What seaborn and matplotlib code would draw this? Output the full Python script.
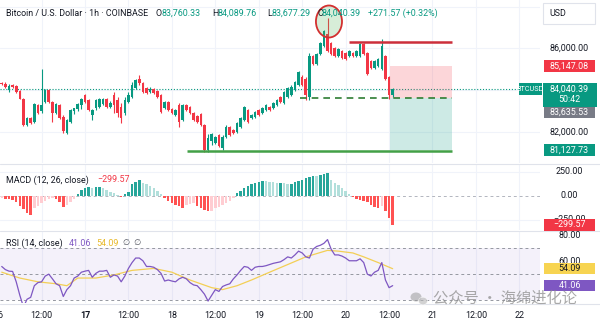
import numpy as np
import matplotlib
matplotlib.use("Agg")
import matplotlib.pyplot as plt
import matplotlib.transforms as mtransforms
from matplotlib.patches import Rectangle, Ellipse
import seaborn as sns

sns.set_theme(style="white")
plt.rcParams["font.family"] = ["Roboto", "DejaVu Sans"]

# ---------------- data: BTCUSD hourly candles, one per hour from the 16th 01:00 ----------------
opens = [84330, 84300, 84000, 84220, 84180, 83950, 83590, 82330, 82640, 82480,
         83280, 82990, 83430, 83990, 83430, 82880, 83300, 82720, 81930, 82480,
         83000, 83080, 83300, 83750, 83510, 82800, 83120, 83200, 83350, 83590,
         83200, 83750, 83510, 83180, 82900, 83430, 83650, 84080, 84550, 84330,
         84080, 83920, 84050, 83950, 83780, 83130, 83420, 83100, 82800, 83280,
         82570, 83280, 83200, 82900, 82750, 82850, 82330, 81140, 81570, 81470,
         81850, 81230, 81750, 82230, 82090, 82000, 82230, 82570, 83040, 82660,
         82710, 83040, 82900, 83040, 83180, 83130, 83280, 83650, 83370, 83650,
         83750, 83990, 84220, 84600, 84550, 83650, 85640, 85260, 85730, 86120,
         86690, 86260, 86020, 85640, 85880, 85790, 85640, 85790, 85640, 85640,
         86210, 85790, 85410, 85070, 85170, 85030, 85640, 84600, 83760.33]
highs = [84400, 84360, 84300, 84290, 84240, 84000, 83640, 82700, 82720, 83400,
         83350, 85010, 84050, 84050, 83480, 83400, 83350, 82800, 82600, 83100,
         83160, 83400, 83640, 83800, 83560, 83100, 83560, 83640, 83640, 83640,
         83460, 83900, 83650, 83370, 83650, 83900, 84360, 84550, 84700, 84400,
         84130, 84130, 84100, 84000, 83830, 83470, 83470, 83150, 83090, 83370,
         83330, 83330, 83250, 82950, 82800, 82900, 82380, 81900, 81950, 81800,
         81900, 81850, 82300, 82280, 82140, 82470, 82710, 83230, 83090, 82850,
         83000, 83090, 83180, 83330, 83230, 83420, 83560, 83700, 83940, 84130,
         84220, 84410, 84890, 84700, 84600, 85790, 85700, 85780, 86310, 86900,
         87450, 86310, 86070, 86030, 85930, 85840, 85930, 85840, 85930, 86260,
         86260, 85840, 85460, 85460, 85550, 86450, 85690, 84650, 84089.76]
lows = [84220, 84100, 83900, 84100, 83850, 83550, 82280, 82280, 82380, 82420,
        82830, 82900, 83380, 83380, 82480, 82830, 82600, 81950, 81900, 82430,
        82850, 83000, 83080, 83380, 82990, 82570, 83060, 83150, 83300, 83150,
        83150, 82900, 82700, 82420, 82800, 83380, 83600, 84030, 84250, 83850,
        83800, 83850, 83800, 83630, 82900, 83080, 82990, 82850, 82750, 82230,
        82520, 82990, 82850, 82520, 82420, 82280, 81050, 81050, 81380, 81400,
        81280, 81140, 81700, 81800, 81900, 81950, 82180, 82520, 82420, 82610,
        82660, 82750, 82850, 82990, 82990, 83080, 83230, 83370, 83320, 83600,
        83700, 83940, 84170, 84200, 83520, 83510, 85200, 85210, 85680, 86070,
        85830, 85690, 85590, 85590, 85500, 85450, 85590, 85590, 85590, 85590,
        85690, 84700, 85020, 85020, 85120, 84980, 84500, 83580, 83677.29]
closes = [84270, 84140, 84200, 84140, 83900, 83590, 82330, 82640, 82440, 83350,
          82880, 83300, 83990, 83430, 82900, 83350, 82640, 82010, 82560, 83040,
          83120, 83350, 83590, 83430, 83040, 83040, 83510, 83590, 83590, 83200,
          83400, 83280, 82900, 82660, 83510, 83750, 84220, 84500, 84330, 83900,
          83860, 84030, 83850, 83680, 82960, 83420, 83040, 82900, 83040, 82470,
          83280, 83040, 82900, 82570, 82470, 82330, 81140, 81710, 81900, 81750,
          81330, 81750, 82230, 81850, 81950, 82420, 82660, 83180, 82470, 82800,
          82950, 82800, 83130, 83280, 83040, 83370, 83510, 83420, 83890, 84080,
          84130, 84360, 84840, 84250, 83750, 85640, 85260, 85730, 86260, 86830,
          85880, 85740, 85640, 85980, 85550, 85500, 85880, 85640, 85880, 86210,
          85740, 84790, 85070, 85410, 85500, 86120, 84550, 83768.82, 84040.39]

# MACD (12, 26, close) histogram
macd_hist = [-25, -30, -35, -40, -60, -100, -140, -180, -195, -125,
             -100, -75, -50, -30, -25, -30, -60, -110, -90, -60,
             -30, 25, 60, 85, 90, 80, 90, 95, 85, 60,
             45, 30, 10, -15, 20, 40, 130, 150, 165, 140,
             120, 100, 80, 50, 25, -25, -50, -70, -90, -105,
             -125, -95, -80, -75, -100, -120, -145, -160, -155, -130,
             -110, -90, -70, -50, -25, 30, 55, 80, 100, 130,
             140, 150, 160, 155, 150, 145, 140, 140, 135, 130,
             130, 150, 160, 170, 185, 200, 210, 205, 215, 225,
             235, 170, 140, 110, 80, 50, 20, -15, -30, -45,
             -55, -65, -90, -110, -125, -105, -160, -230, -299.57]

# RSI (14, close) and its moving average
rsi = [55.8, 53.4, 52.2, 52.0, 44.0, 33.6, 24.7, 30.6, 32.1, 41.0,
       43.4, 44.0, 48.4, 49.9, 46.3, 42.5, 41.0, 32.7, 38.0, 41.0,
       46.9, 48.4, 51.4, 52.2, 52.8, 47.5, 50.5, 52.2, 52.2, 52.8,
       47.5, 49.3, 48.4, 44.0, 48.4, 54.3, 58.8, 62.3, 62.3, 60.2,
       55.8, 55.8, 55.2, 53.4, 50.5, 44.6, 45.4, 44.6, 44.0, 46.3,
       47.5, 46.3, 43.4, 41.6, 41.0, 38.0, 34.5, 29.2, 33.6, 38.0,
       36.6, 40.4, 41.6, 42.5, 46.3, 49.3, 52.8, 55.8, 55.2, 52.8,
       55.2, 55.8, 55.8, 56.4, 57.3, 58.2, 58.8, 59.4, 61.1, 63.2,
       62.3, 64.7, 67.6, 66.2, 63.2, 62.3, 69.1, 71.2, 72.1, 73.6,
       76.5, 69.1, 64.7, 64.7, 63.8, 62.3, 60.2, 60.2, 60.2, 61.7,
       58.8, 49.9, 48.5, 51.4, 52.8, 58.8, 45.4, 39.5, 41.06]
rsi_ma_hours = [1, 6, 11, 16, 19, 22, 27, 32, 37, 43, 48, 53, 59,
                62, 66, 70, 75, 80, 85, 91, 94, 98, 101, 105, 109]
rsi_ma = [51.4, 46.9, 44.0, 42.5, 41.0, 46.9, 46.9, 49.3, 52.8, 54.3, 51.4, 45.4, 39.5,
          38.0, 41.0, 45.4, 51.4, 57.3, 63.2, 68.2, 67.6, 66.2, 63.2, 58.8, 54.09]

# time axis (hours counted from the 16th 00:00)
tick_hours = [0, 12, 24, 36, 48, 60, 72, 84, 96, 108, 120, 132, 144]
tick_labels = ["16", "12:00", "17", "12:00", "18", "12:00", "19",
               "12:00", "20", "12:00", "21", "12:00", "22"]

# price scale and drawing-tool levels
price_ticks = [86000, 82000]
stop_level = 85147.08
entry_level = 83635.53
target_level = 81127.73
resistance_level = 86280
support_level = 81060

# ---------------- styling ----------------
GREEN = "#089981"
RED = "#F23645"
DARK = "#131722"
GRID = "#f0f3fa"
PURPLE = "#7E57C2"
YELLOW = "#F3CF55"
W, H = 600, 326
FS = 6.4


def fx(x):
    return x / W


def fy(y):
    return 1 - y / H


fig = plt.figure(figsize=(W / 100, H / 100), dpi=100)
fig.patch.set_facecolor("white")
ax = fig.add_axes([0, fy(163), 540 / W, 163 / H])
ax_m = fig.add_axes([0, fy(230), 540 / W, 66 / H])
ax_r = fig.add_axes([0, fy(303), 540 / W, 72 / H])

hours = np.arange(1, len(closes) + 1)
o = np.array(opens)
h = np.array(highs)
l = np.array(lows)
c = np.array(closes)

XL = (0.52, 149.7)
for a in (ax, ax_m, ax_r):
    a.set_facecolor("white")
    for t in tick_hours:
        a.axvline(t, color=GRID, lw=0.8, zorder=0)

# ---- main price pane ----
for p in [82000, 84000, 86000, 88000]:
    ax.axhline(p, color=GRID, lw=0.8, zorder=0)
up = c >= o
cols = np.where(up, GREEN, RED)
ax.vlines(hours, l, h, colors=cols, lw=0.8, zorder=2)
ax.bar(hours, np.maximum(np.abs(c - o), 20), bottom=np.minimum(o, c), width=0.72,
       color=cols, lw=0, zorder=3)
ax.axhline(closes[-1], color=GREEN, ls=(0, (1, 1.6)), lw=0.8, zorder=1)

# long/short position tool and hand-drawn levels
ax.add_patch(Rectangle((108.3, entry_level), 17.1, stop_level - entry_level,
                       fc=RED, alpha=0.2, lw=0, zorder=1))
ax.add_patch(Rectangle((108.3, target_level), 17.1, entry_level - target_level,
                       fc=GREEN, alpha=0.2, lw=0, zorder=1))
ax.hlines(resistance_level, 96.9, 125.4, colors="#cc2f3b", lw=1.8, zorder=4)
ax.hlines(support_level, 52.2, 125.4, colors="#43a047", lw=1.8, zorder=4)
ax.hlines(entry_level, 83.4, 125.4, colors="#2e7d32", linestyles=(0, (4, 3)), lw=1.2, zorder=4)
ax.add_patch(Ellipse((91.4, 87285), 7.2, 1535, fc=(0.30, 0.69, 0.31, 0.22),
                     ec="#d32f2f", lw=1.3, zorder=6))
ax.set_xlim(XL)
ax.set_ylim(80499, 88316)

# ---- MACD pane ----
for v in (250, -250):
    ax_m.axhline(v, color=GRID, lw=0.8, zorder=0)
ax_m.axhline(0, color="#b2b5be", ls=(0, (3, 3)), lw=0.7, zorder=1)
hist_cols = []
prev = macd_hist[0]
for v in macd_hist:
    if v >= 0:
        hist_cols.append("#26A69A" if v >= prev else "#B2DFDB")
    else:
        hist_cols.append("#FF5252" if v < prev else "#FFCDD2")
    prev = v
ax_m.bar(hours, macd_hist, width=0.68, color=hist_cols, lw=0, zorder=2)
ax_m.set_xlim(XL)
ax_m.set_ylim(-354, 333)

# ---- RSI pane ----
ax_r.axhspan(30, 70, color=PURPLE, alpha=0.08, lw=0, zorder=0)
for v in (70, 50, 30):
    ax_r.axhline(v, color="#9598a1", ls=(0, (3, 3)), lw=0.7, zorder=1)
sns.lineplot(x=rsi_ma_hours, y=rsi_ma, ax=ax_r, color=YELLOW, lw=0.9, zorder=2)
sns.lineplot(x=hours, y=rsi, ax=ax_r, color=PURPLE, lw=0.9, zorder=3)
ax_r.set_xlim(XL)
ax_r.set_ylim(27.7, 83.1)

for a in (ax, ax_m, ax_r):
    a.set_xticks([])
    a.set_yticks([])
    a.set_xlabel("")
    a.set_ylabel("")
    for s in a.spines.values():
        s.set_visible(False)

# pane separators
for yy in (163.5, 230.5, 303.5):
    fig.add_artist(plt.Line2D([0, 1], [fy(yy), fy(yy)], color="#e0e3eb", lw=0.8))


def y_px(a, v):
    return H - a.transData.transform((XL[0], v))[1]


def tag(yc, text, bg, fg="white", x0=544, x1=595, hh=11.5, size=FS):
    fig.add_artist(Rectangle((fx(x0), fy(yc + hh / 2)), (x1 - x0) / W, hh / H,
                             transform=fig.transFigure, fc=bg, ec="none", zorder=10))
    fig.text(fx((x0 + x1) / 2), fy(yc), text, ha="center", va="center",
             color=fg, fontsize=size, zorder=11)


def scale_text(yc, text, clip_below=None):
    t = fig.text(fx(569.5), fy(yc), text, ha="center", va="center", color=DARK, fontsize=FS)
    if clip_below is not None:
        clip = Rectangle((fx(530), fy(clip_below)), 70 / W, 40 / H, transform=fig.transFigure)
        t.set_clip_path(clip)
    return t


# main price scale
for p in price_ticks:
    scale_text(y_px(ax, p), f"{p:,.2f}")
tag(y_px(ax, stop_level), f"{stop_level:,.2f}", RED)
cur = y_px(ax, closes[-1])
fig.add_artist(Rectangle((fx(543), fy(cur + 18)), 54 / W, 24 / H,
                         transform=fig.transFigure, fc=GREEN, ec="none", zorder=10))
fig.text(fx(569.5), fy(cur + 0.3), f"{closes[-1]:,.2f}", ha="center", va="center",
         color="white", fontsize=FS, zorder=11)
fig.text(fx(569.5), fy(cur + 10.5), "50:42", ha="center", va="center",
         color="white", fontsize=FS, zorder=11)
fig.add_artist(Rectangle((fx(519), fy(cur + 6)), 23 / W, 12 / H,
                         transform=fig.transFigure, fc=GREEN, ec="none", zorder=10))
fig.text(fx(530.5), fy(cur), "BTCUSD", ha="center", va="center", color="white",
         fontsize=5.2, zorder=11)
tag(cur + 23.5, f"{entry_level:,.2f}", "#787B86")
tag(y_px(ax, target_level), f"{target_level:,.2f}", GREEN)

# USD unit box
fig.add_artist(Rectangle((fx(543), fy(24)), 52 / W, 21 / H, transform=fig.transFigure,
                         fc="white", ec="#e0e3eb", lw=0.8, zorder=10))
fig.text(fx(549), fy(13.5), "USD", ha="left", va="center", color=DARK, fontsize=FS, zorder=11)

# MACD scale
scale_text(y_px(ax_m, 250), "250.00")
scale_text(y_px(ax_m, 0), "0.00")
macd_tag_y = y_px(ax_m, macd_hist[-1])
scale_text(y_px(ax_m, -250) - 1, "\u2212250.00", clip_below=macd_tag_y - 5.75)
tag(macd_tag_y, f"\u2212{abs(macd_hist[-1]):,.2f}", RED)

# RSI scale
scale_text(y_px(ax_r, 80), "80.00")
scale_text(y_px(ax_r, 60), "60.00")
tag(y_px(ax_r, rsi_ma[-1]), f"{rsi_ma[-1]:.2f}", "#F7D451", fg=DARK)
tag(y_px(ax_r, rsi[-1]), f"{rsi[-1]:.2f}", PURPLE)

# header legend
hy = fy(13)
fig.text(fx(6), hy, "Bitcoin / U.S. Dollar \u00b7 1h \u00b7 COINBASE", color=DARK,
         fontsize=FS, va="center")
chg = closes[-1] - closes[-2]
for xx, key, val in [(156, "O", opens[-1]), (212, "H", highs[-1]),
                     (267, "L", lows[-1]), (317, "C", closes[-1])]:
    fig.text(fx(xx), hy, key, color=DARK, fontsize=FS, va="center")
    fig.text(fx(xx + 5), hy, f"{val:,.2f}", color=GREEN, fontsize=FS, va="center")
fig.text(fx(368), hy, f"+{chg:,.2f} (+{chg / closes[-2] * 100:.2f}%)", color=GREEN,
         fontsize=FS, va="center")

# pane titles
fig.text(fx(6), fy(180), "MACD (12, 26, close)", color=DARK, fontsize=FS, va="center")
fig.text(fx(97), fy(180), f"\u2212{abs(macd_hist[-1]):.2f}", color=RED, fontsize=FS, va="center")
fig.text(fx(6), fy(243), "RSI (14, close)", color=DARK, fontsize=FS, va="center")
fig.text(fx(69), fy(243), f"{rsi[-1]:.2f}", color=PURPLE, fontsize=FS, va="center")
fig.text(fx(96), fy(243), f"{rsi_ma[-1]:.2f}", color="#E8B92A", fontsize=FS, va="center")
fig.text(fx(123), fy(243), "\u2205  \u2205", color="#50535e", fontsize=FS - 0.5, va="center")

# time axis
tx = mtransforms.blended_transform_factory(ax.transData, fig.transFigure)
for t, lab in zip(tick_hours, tick_labels):
    fig.text(t, fy(315), lab, transform=tx, ha="center", va="center", color=DARK,
             fontsize=FS, fontweight="bold" if lab == "17" else "normal")

# watermark
fig.add_artist(Ellipse((fx(416), fy(297)), 11 / W, 9 / H, transform=fig.transFigure,
                       fc="#9a9a9a", ec="none", alpha=0.55, zorder=12))
fig.add_artist(Ellipse((fx(423), fy(301)), 9 / W, 7.5 / H, transform=fig.transFigure,
                       fc="#b5b5b5", ec="white", lw=0.6, alpha=0.6, zorder=12))
fig.text(fx(433), fy(298.5), "公众号 · 海绵进化论", color="#8c8c8c", alpha=0.75,
         fontsize=11, va="center", family=["Noto Sans CJK SC", "DejaVu Sans"], zorder=12)

fig.savefig("out.png", dpi=100)
